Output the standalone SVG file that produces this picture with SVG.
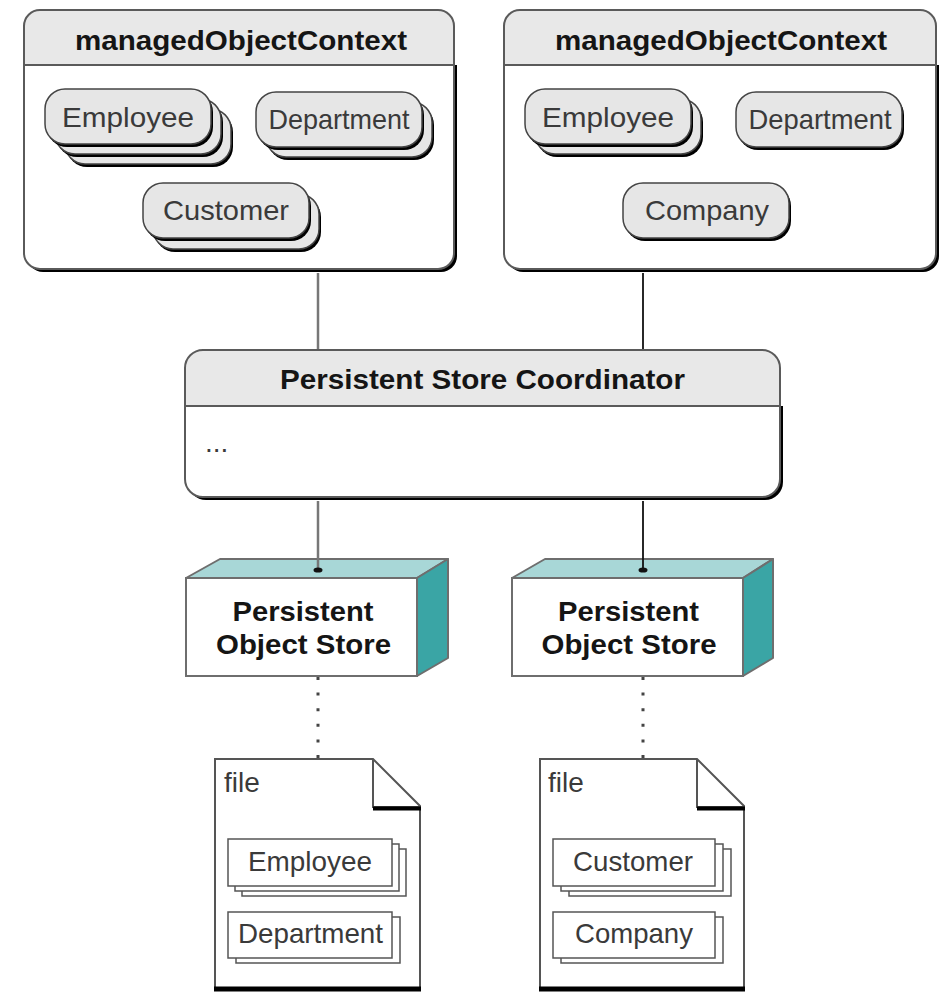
<svg xmlns="http://www.w3.org/2000/svg" width="949" height="994" viewBox="0 0 949 994">
  <defs>
    <style>
      .bg { fill: #ffffff; }
      .shadow { fill: #000000; }
      .hdr { fill: #e8e8e8; }
      .edge { fill: none; stroke: #5a5a5a; stroke-width: 2; }
      .pill { fill: #e6e6e6; stroke: #444444; stroke-width: 1.5; }
      .rec { fill: #ffffff; stroke: #555555; stroke-width: 1.5; }
      .title { font-family: "Liberation Sans", Arial, sans-serif; font-weight: bold; font-size: 28px; fill: #151515; text-anchor: middle; }
      .lbl { font-family: "Liberation Sans", Arial, sans-serif; font-size: 28px; fill: #3a3a3a; text-anchor: middle; }
      .plain { font-family: "Liberation Sans", Arial, sans-serif; font-size: 28px; fill: #3a3a3a; }
      .top { fill: #a8d7d7; stroke: #6e6e6e; stroke-width: 2; stroke-linejoin: round; }
      .side { fill: #3aa5a5; stroke: #6e6e6e; stroke-width: 2; stroke-linejoin: round; }
      .front { fill: #ffffff; stroke: #6e6e6e; stroke-width: 2; }
      .doc { fill: #ffffff; stroke: #555555; stroke-width: 2; stroke-linejoin: miter; }
      .link-gray { stroke: #777777; stroke-width: 2.5; fill: none; }
      .link-dark { stroke: #111111; stroke-width: 1.8; fill: none; }
      .dots { stroke: #444444; stroke-width: 3; stroke-dasharray: 3 12.6; fill: none; }
    </style>
    <marker id="dot" viewBox="-5 -5 10 10" markerWidth="10" markerHeight="10" markerUnits="userSpaceOnUse" refX="0" refY="0" orient="0">
      <ellipse cx="0" cy="0" rx="4.5" ry="2.6" fill="#111111"/>
    </marker>
    <!-- rounded entity pill with drop shadow -->
    <symbol id="pillShape" overflow="visible">
      <rect x="2" y="3" width="166" height="55" rx="20" class="shadow"/>
      <rect x="0" y="0" width="166" height="55" rx="20" class="pill"/>
    </symbol>
  </defs>

  <rect x="0" y="0" width="949" height="994" class="bg"/>

  <!-- left managed object context -->
  <g id="context-left">
    <path class="shadow" d="M27,65 H457 V256 A16 16 0 0 1 441,272 H43 A16 16 0 0 1 27,256 Z"/>
    <rect x="24" y="10" width="430" height="259" rx="16" class="bg"/>
    <path class="hdr" d="M24,65 V26 A16 16 0 0 1 40,10 H438 A16 16 0 0 1 454,26 V65 Z"/>
    <line x1="24" y1="65" x2="454" y2="65" class="edge"/>
    <rect x="24" y="10" width="430" height="259" rx="16" class="edge"/>
    <text x="241" y="50" class="title" textLength="332" lengthAdjust="spacingAndGlyphs">managedObjectContext</text>

    <g id="ctx-left-employee">
      <use href="#pillShape" x="65" y="109"/>
      <use href="#pillShape" x="55" y="99"/>
      <use href="#pillShape" x="45" y="89"/>
      <text x="128" y="127" class="lbl" textLength="132" lengthAdjust="spacingAndGlyphs">Employee</text>
    </g>
    <g id="ctx-left-department">
      <use href="#pillShape" x="266" y="102"/>
      <use href="#pillShape" x="256" y="92"/>
      <text x="339" y="129" class="lbl" textLength="141" lengthAdjust="spacingAndGlyphs">Department</text>
    </g>
    <g id="ctx-left-customer">
      <use href="#pillShape" x="153" y="194"/>
      <use href="#pillShape" x="143" y="183"/>
      <text x="226" y="220" class="lbl" textLength="126" lengthAdjust="spacingAndGlyphs">Customer</text>
    </g>
  </g>

  <!-- right managed object context -->
  <g id="context-right">
    <path class="shadow" d="M507,65 H939 V256 A16 16 0 0 1 923,272 H523 A16 16 0 0 1 507,256 Z"/>
    <rect x="504" y="10" width="432" height="259" rx="16" class="bg"/>
    <path class="hdr" d="M504,65 V26 A16 16 0 0 1 520,10 H920 A16 16 0 0 1 936,26 V65 Z"/>
    <line x1="504" y1="65" x2="936" y2="65" class="edge"/>
    <rect x="504" y="10" width="432" height="259" rx="16" class="edge"/>
    <text x="721" y="50" class="title" textLength="332" lengthAdjust="spacingAndGlyphs">managedObjectContext</text>

    <g id="ctx-right-employee">
      <use href="#pillShape" x="535" y="99"/>
      <use href="#pillShape" x="525" y="89"/>
      <text x="608" y="127" class="lbl" textLength="132" lengthAdjust="spacingAndGlyphs">Employee</text>
    </g>
    <g id="ctx-right-department">
      <use href="#pillShape" x="736" y="92"/>
      <text x="820" y="129" class="lbl" textLength="143" lengthAdjust="spacingAndGlyphs">Department</text>
    </g>
    <g id="ctx-right-company">
      <use href="#pillShape" x="623" y="183"/>
      <text x="707" y="220" class="lbl" textLength="124" lengthAdjust="spacingAndGlyphs">Company</text>
    </g>
  </g>

  <!-- persistent store coordinator -->
  <g id="coordinator">
    <path class="shadow" d="M188,406 H783 V482 A18 18 0 0 1 765,500 H206 A18 18 0 0 1 188,482 Z"/>
    <rect x="185" y="350" width="595" height="147" rx="18" class="bg"/>
    <path class="hdr" d="M185,406 V368 A18 18 0 0 1 203,350 H762 A18 18 0 0 1 780,368 V406 Z"/>
    <line x1="185" y1="406" x2="780" y2="406" class="edge"/>
    <rect x="185" y="350" width="595" height="147" rx="18" class="edge"/>
    <text x="482.5" y="389" class="title" textLength="405" lengthAdjust="spacingAndGlyphs">Persistent Store Coordinator</text>
    <text x="205" y="452" class="plain" font-size="22">...</text>
  </g>

  <!-- left persistent object store -->
  <g id="store-left">
    <polygon class="top" points="186,578 220,559 448,559 417,578"/>
    <polygon class="side" points="417,578 448,559 448,658 417,676"/>
    <rect x="186" y="578" width="231" height="98" class="front"/>
    <text x="303" y="621" class="title" textLength="141" lengthAdjust="spacingAndGlyphs">Persistent</text>
    <text x="303.5" y="654" class="title" textLength="175" lengthAdjust="spacingAndGlyphs">Object Store</text>
  </g>

  <!-- right persistent object store -->
  <g id="store-right">
    <polygon class="top" points="512,578 545,559 773,559 743,578"/>
    <polygon class="side" points="743,578 773,559 773,658 743,676"/>
    <rect x="512" y="578" width="231" height="98" class="front"/>
    <text x="628.5" y="621" class="title" textLength="141" lengthAdjust="spacingAndGlyphs">Persistent</text>
    <text x="629" y="654" class="title" textLength="175" lengthAdjust="spacingAndGlyphs">Object Store</text>
  </g>

  <!-- left file -->
  <g id="file-left">
    <path class="doc" d="M215,759 H373 L420,806 V989 H215 Z"/>
    <line x1="214" y1="989" x2="421" y2="989" stroke="#000" stroke-width="5"/>
    <path d="M373,759 V807 H420" fill="none" stroke="#555" stroke-width="2"/>
    <line x1="373" y1="808.5" x2="421" y2="808.5" stroke="#000" stroke-width="4"/>
    <text x="224" y="792" class="plain">file</text>
    <g id="file-left-employee">
      <rect x="242" y="849" width="164" height="47" class="rec"/>
      <rect x="235" y="844" width="164" height="47" class="rec"/>
      <rect x="228" y="839" width="164" height="47" class="rec"/>
      <text x="310" y="871" class="lbl" textLength="124" lengthAdjust="spacingAndGlyphs">Employee</text>
    </g>
    <g id="file-left-department">
      <rect x="236" y="917" width="164" height="46" class="rec"/>
      <rect x="228" y="912" width="164" height="46" class="rec"/>
      <text x="310.5" y="943" class="lbl" textLength="145" lengthAdjust="spacingAndGlyphs">Department</text>
    </g>
  </g>

  <!-- right file -->
  <g id="file-right">
    <path class="doc" d="M540,759 H697 L744,806 V989 H540 Z"/>
    <line x1="539" y1="989" x2="745" y2="989" stroke="#000" stroke-width="5"/>
    <path d="M697,759 V807 H744" fill="none" stroke="#555" stroke-width="2"/>
    <line x1="697" y1="808.5" x2="745" y2="808.5" stroke="#000" stroke-width="4"/>
    <text x="548" y="792" class="plain">file</text>
    <g id="file-right-customer">
      <rect x="569" y="849" width="162" height="47" class="rec"/>
      <rect x="561" y="844" width="162" height="47" class="rec"/>
      <rect x="553" y="839" width="162" height="47" class="rec"/>
      <text x="633" y="871" class="lbl" textLength="120" lengthAdjust="spacingAndGlyphs">Customer</text>
    </g>
    <g id="file-right-company">
      <rect x="561" y="917" width="162" height="46" class="rec"/>
      <rect x="553" y="912" width="162" height="46" class="rec"/>
      <text x="634" y="943" class="lbl" textLength="118" lengthAdjust="spacingAndGlyphs">Company</text>
    </g>
  </g>

  <!-- connectors, drawn over the node outlines so the end dots stay visible -->
  <g id="connectors">
    <line x1="318" y1="273" x2="318" y2="349" class="link-gray"/>
    <line x1="643" y1="273" x2="643" y2="349" class="link-dark"/>
    <line x1="318" y1="501" x2="318" y2="570" class="link-gray" marker-end="url(#dot)"/>
    <line x1="643" y1="501" x2="643" y2="570" class="link-dark" marker-end="url(#dot)"/>
    <line x1="318" y1="677" x2="318" y2="758" class="dots"/>
    <line x1="643" y1="677" x2="643" y2="758" class="dots"/>
  </g>
</svg>
